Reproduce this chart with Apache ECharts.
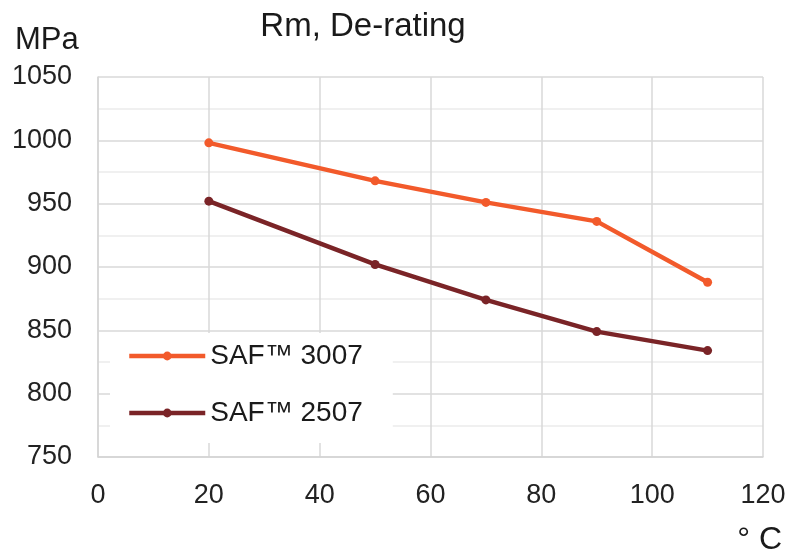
<!DOCTYPE html>
<html>
<head>
<meta charset="utf-8">
<script src="https://cdn.jsdelivr.net/npm/echarts@6/dist/echarts.min.js"></script>
<style>
html,body{margin:0;padding:0;background:#fff;}
#c{width:792px;height:556px;}
</style>
</head>
<body>
<div id="c"></div>
<script>
var temperatures = [20, 50, 70, 90, 110];
var saf3007 = [998, 968, 951, 936, 888];
var saf2507 = [952, 902, 874, 849, 834];
var seriesNames = ['SAF™ 3007', 'SAF™ 2507'];
var titleText = 'Rm, De-rating';
var yUnit = 'MPa';
var xUnit = '° C';

function pairs(xs, ys) { return xs.map(function (x, i) { return [x, ys[i]]; }); }

var font = 'Liberation Sans, Arial, sans-serif';
var chart = echarts.init(document.getElementById('c'));
chart.setOption({
  animation: false,
  backgroundColor: '#ffffff',
  grid: { left: 98, right: 29, top: 77, bottom: 99, containLabel: false },
  graphic: [
    { type: 'text', style: { text: titleText, x: 363, y: 27, align: 'center', verticalAlign: 'middle', font: '33px ' + font, fill: '#1a1a1a' } },
    { type: 'text', style: { text: yUnit, x: 15, y: 40, align: 'left', verticalAlign: 'middle', font: '31px ' + font, fill: '#1a1a1a' } },
    { type: 'text', style: { text: xUnit, x: 782, y: 540, align: 'right', verticalAlign: 'middle', font: '32px ' + font, fill: '#1a1a1a' } }
  ],
  legend: {
    orient: 'vertical',
    left: 110,
    top: 333,
    padding: [9, 30, 16, 17],
    backgroundColor: '#ffffff',
    itemWidth: 76,
    itemHeight: 11,
    itemGap: 29,
    lineStyle: { width: 4.5 },
    textStyle: { fontSize: 28, fontFamily: font, color: '#1a1a1a', lineHeight: 28 },
    data: seriesNames
  },
  xAxis: {
    type: 'value',
    min: 0, max: 120, interval: 20,
    axisLine: { show: true, lineStyle: { color: '#d4d4d4', width: 1.5 } },
    axisTick: { show: false },
    axisLabel: { fontSize: 27, fontFamily: font, color: '#222', margin: 25 },
    splitLine: { show: true, lineStyle: { color: '#d9d9d9', width: 1.5 } }
  },
  yAxis: {
    type: 'value',
    min: 750, max: 1050, interval: 50,
    axisLine: { show: true, lineStyle: { color: '#d4d4d4', width: 1.5 } },
    axisTick: { show: false },
    axisLabel: { fontSize: 27, fontFamily: font, color: '#222', margin: 26, formatter: function (v) { return String(v); } },
    splitLine: { show: true, lineStyle: { color: '#d9d9d9', width: 1.5 } },
    minorTick: { show: false, splitNumber: 2 },
    minorSplitLine: { show: true, lineStyle: { color: '#ebebeb', width: 1.5 } }
  },
  series: [
    {
      name: seriesNames[0], type: 'line', data: pairs(temperatures, saf3007),
      symbol: 'circle', symbolSize: 9,
      lineStyle: { color: '#F25A2B', width: 4.5 },
      itemStyle: { color: '#F25A2B' }
    },
    {
      name: seriesNames[1], type: 'line', data: pairs(temperatures, saf2507),
      symbol: 'circle', symbolSize: 9,
      lineStyle: { color: '#7A2427', width: 4.5 },
      itemStyle: { color: '#7A2427' }
    }
  ]
});
</script>
</body>
</html>
